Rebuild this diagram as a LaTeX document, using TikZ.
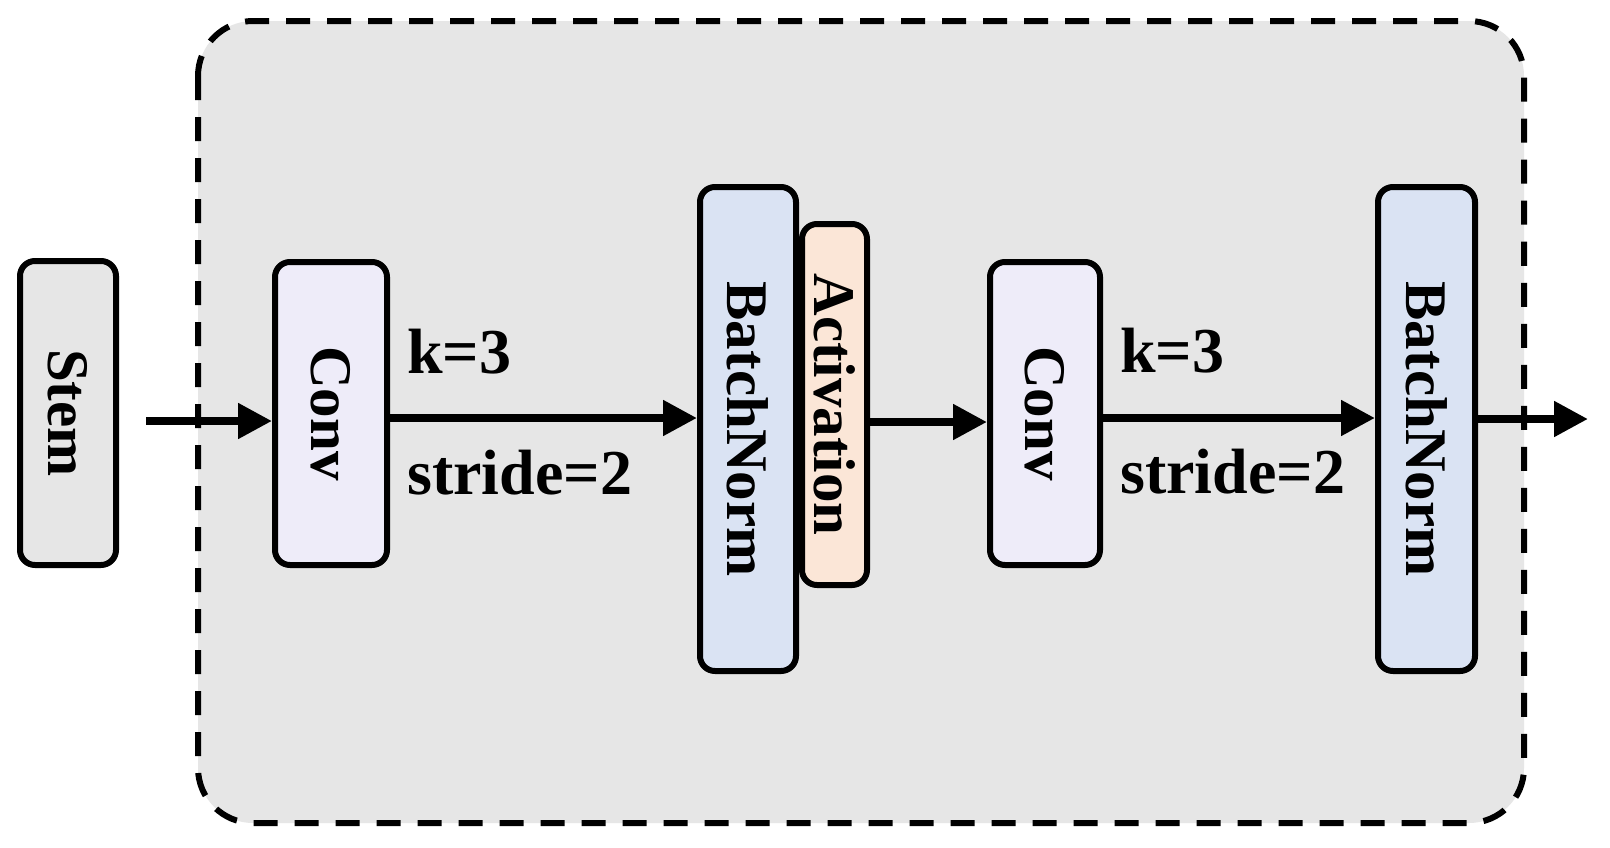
\documentclass[tikz,border=0pt]{standalone}
\usepackage{fontspec}
\setmainfont{Liberation Serif}
\usepackage{graphicx}
\usetikzlibrary{arrows.meta}
\definecolor{bggray}{HTML}{E6E6E6}
\definecolor{stemfill}{HTML}{E6E6E6}
\definecolor{convfill}{HTML}{EEECF9}
\definecolor{bnfill}{HTML}{DAE3F3}
\definecolor{actfill}{HTML}{FBE6D7}
\tikzset{
  blockbox/.style={draw=black, line width=6pt, rounded corners=15pt, inner sep=0pt,
    font=\fontsize{59pt}{60pt}\selectfont\bfseries},
  arr/.style={line width=8pt, -{Triangle[length=34pt,width=34pt]}},
  lbl/.style={inner sep=0pt, anchor=base west, font=\fontsize{64pt}{66pt}\selectfont\bfseries},
}
\begin{document}
\begin{tikzpicture}[x=1pt,y=-1pt]
\useasboundingbox (0,0) rectangle (1610,847);
\fill[white] (0,0) rectangle (1610,847);
% container
\draw[fill=bggray, line width=6pt, dash pattern=on 24pt off 17pt, rounded corners=55pt]
  (198,21) rectangle (1524,823);
% blocks
\node[blockbox, fill=stemfill, minimum width=96pt, minimum height=304pt] (stem) at (68,413) {\rotatebox{-90}{Stem}};
\node[blockbox, fill=convfill, minimum width=112pt, minimum height=303pt] (conv1) at (331,413.5) {\rotatebox{-90}{Conv}};
\node[blockbox, fill=actfill, minimum width=65pt, minimum height=361pt] (act) at (834.5,404.5) {\rotatebox{-90}{Activation}};
\node[blockbox, fill=bnfill, minimum width=96pt, minimum height=484pt] (bn1) at (748,429) {\rotatebox{-90}{BatchNorm}};
\node[blockbox, fill=convfill, minimum width=110pt, minimum height=303pt] (conv2) at (1045,413.5) {\rotatebox{-90}{Conv}};
\node[blockbox, fill=bnfill, minimum width=97pt, minimum height=484pt] (bn2) at (1426.5,429) {\rotatebox{-90}{BatchNorm}};
% labels
\node[lbl] (k1) at (407,373) {k=3};
\node[lbl] (s1) at (407,494) {stride=2};
\node[lbl] (k2) at (1120,372) {k=3};
\node[lbl] (s2) at (1120,493) {stride=2};
% connectors
\coordinate (in) at (146,421);
\coordinate (out) at (1588,419);
\draw[arr] (in) -- (in -| conv1.west);
\draw[arr] (conv1.east |- 0,418) -- (bn1.west |- 0,418);
\draw[arr] (act.east |- 0,422) -- (conv2.west |- 0,422);
\draw[arr] (conv2.east |- 0,418) -- (bn2.west |- 0,418);
\draw[arr] (bn2.east |- out) -- (out);
\end{tikzpicture}
\end{document}
